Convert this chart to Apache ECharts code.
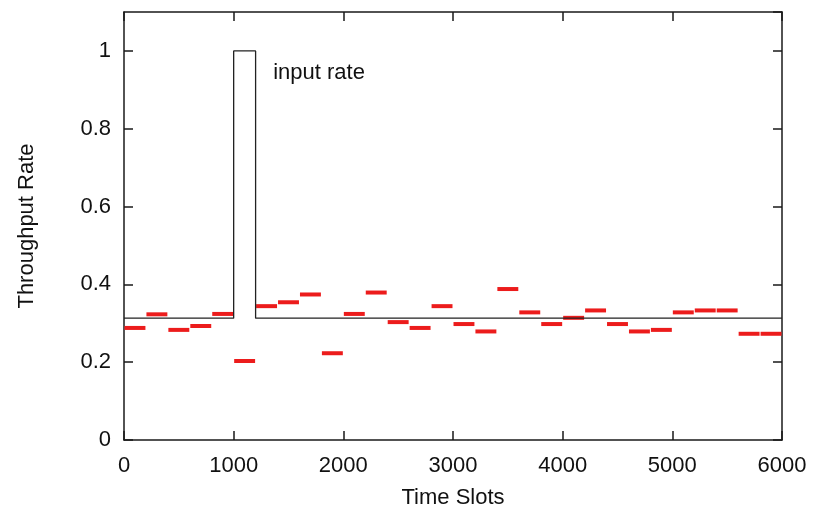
<!DOCTYPE html>
<html>
<head>
<meta charset="utf-8">
<script src="https://cdn.jsdelivr.net/npm/echarts@6/dist/echarts.min.js"></script>
<style>
html,body{margin:0;padding:0;background:#fff;}
#chart{width:821px;height:514px;}
</style>
</head>
<body>
<div id="chart"></div>
<script>
// Time-slot intervals (start, end) for each measured throughput value
const slotStart = [0,200,400,600,800,1000,1200,1400,1600,1800,2000,2200,2400,2600,2800,3000,3200,3400,3600,3800,4000,4200,4400,4600,4800,5000,5200,5400,5600,5800];
const slotEnd   = [200,400,600,800,1000,1200,1400,1600,1800,2000,2200,2400,2600,2800,3000,3200,3400,3600,3800,4000,4200,4400,4600,4800,5000,5200,5400,5600,5800,6000];
const throughput = [0.288,0.323,0.283,0.293,0.324,0.203,0.344,0.354,0.374,0.223,0.324,0.379,0.303,0.288,0.344,0.298,0.279,0.388,0.328,0.298,0.314,0.333,0.298,0.279,0.283,0.328,0.333,0.333,0.273,0.273];

// Input rate curve
const inputX = [0,1000,1000,1200,1200,6000];
const inputY = [0.313,0.313,1,1,0.313,0.313];

// Axis settings / labels
const xTicks = [0,1000,2000,3000,4000,5000,6000];
const yTicks = [0,0.2,0.4,0.6,0.8,1];
const xName = 'Time Slots';
const yName = 'Throughput Rate';
const annotationText = 'input rate';
const annotationAt = [1360, 0.943];

const font = 'Liberation Sans';
const axisColor = '#1a1a1a';

const segData = throughput.map((v, i) => [slotStart[i], slotEnd[i], v]);
const inputData = inputX.map((x, i) => [x, inputY[i]]);

const chart = echarts.init(document.getElementById('chart'), null, {renderer: 'canvas'});

const baseX = {
  type: 'value', min: xTicks[0], max: xTicks[xTicks.length - 1], interval: 1000,
  axisLine: {show: true, onZero: false, lineStyle: {color: axisColor, width: 1.5}},
  axisTick: {show: true, inside: true, length: 9, lineStyle: {color: axisColor, width: 1.5}},
  splitLine: {show: false}
};
const baseY = {
  type: 'value', min: 0, max: 1.1, interval: 0.2,
  axisLine: {show: true, onZero: false, lineStyle: {color: axisColor, width: 1.5}},
  axisTick: {show: true, inside: true, length: 9, lineStyle: {color: axisColor, width: 1.5}},
  splitLine: {show: false}
};

chart.setOption({
  animation: false,
  backgroundColor: '#fff',
  grid: {left: 124, right: 39, top: 12, bottom: 74, containLabel: false},
  xAxis: [
    Object.assign({}, baseX, {
      position: 'bottom',
      name: xName, nameLocation: 'middle', nameGap: 47,
      nameTextStyle: {fontFamily: font, fontSize: 22, color: '#111'},
      axisLabel: {show: true, margin: 15, fontFamily: font, fontSize: 22, color: '#111',
                  formatter: function (v) { return String(v); }}
    }),
    Object.assign({}, baseX, {position: 'top', axisLabel: {show: false}})
  ],
  yAxis: [
    Object.assign({}, baseY, {
      position: 'left',
      name: yName, nameLocation: 'middle', nameGap: 86, nameRotate: 90,
      nameTextStyle: {fontFamily: font, fontSize: 22, color: '#111'},
      axisLabel: {show: true, margin: 13, fontFamily: font, fontSize: 22, color: '#111', showMaxLabel: false,
                  formatter: function (v) { return String(Math.round(v * 10) / 10); }}
    }),
    Object.assign({}, baseY, {position: 'right', axisLabel: {show: false}})
  ],
  series: [
    {
      type: 'custom',
      xAxisIndex: 0, yAxisIndex: 0,
      data: segData,
      encode: {x: [0, 1], y: 2},
      z: 2,
      renderItem: function (params, api) {
        const s = api.coord([api.value(0), api.value(2)]);
        const e = api.coord([api.value(1), api.value(2)]);
        return {
          type: 'line',
          shape: {x1: s[0] + 0.5, y1: s[1], x2: e[0] - 0.5, y2: e[1]},
          style: {stroke: '#ec1c1c', lineWidth: 4}
        };
      }
    },
    {
      type: 'line',
      xAxisIndex: 0, yAxisIndex: 0,
      data: inputData,
      symbol: 'none',
      z: 3,
      lineStyle: {color: '#222', width: 1.3},
      markPoint: {
        symbol: 'circle', symbolSize: 0,
        data: [{coord: annotationAt, value: annotationText}],
        label: {show: true, position: 'right', distance: 0, formatter: annotationText,
                fontFamily: font, fontSize: 22, color: '#111'}
      }
    }
  ]
});
</script>
</body>
</html>
